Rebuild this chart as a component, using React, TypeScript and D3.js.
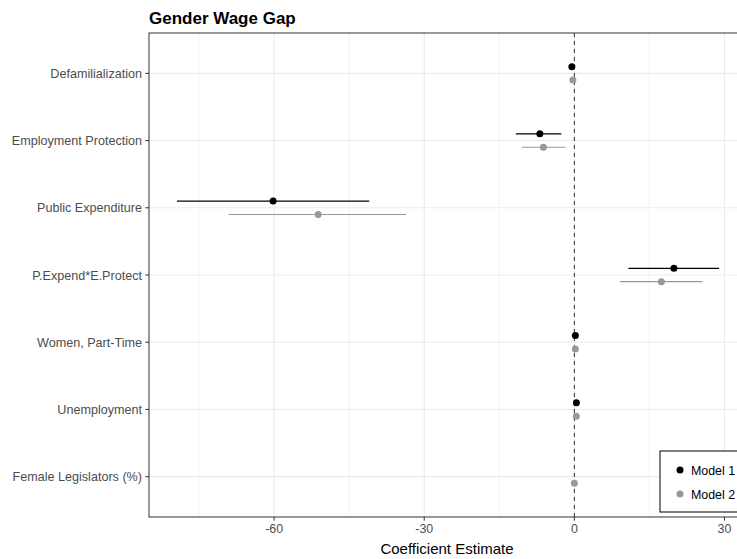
import React from "react";
import * as d3 from "d3";

const categories = [
  "Defamilialization",
  "Employment Protection",
  "Public Expenditure",
  "P.Expend*E.Protect",
  "Women, Part-Time",
  "Unemployment",
  "Female Legislators (%)",
];
const model1Est = [-0.5, -6.9, -60.2, 19.9, 0.2, 0.4, null];
const model1Lo = [-0.7, -11.7, -79.4, 10.8, 0.0, 0.2, null];
const model1Hi = [-0.3, -2.6, -41.0, 28.9, 0.4, 0.6, null];
const model2Est = [-0.3, -6.2, -51.2, 17.4, 0.2, 0.4, 0.0];
const model2Lo = [-0.5, -10.5, -69.1, 9.1, 0.0, 0.2, -0.2];
const model2Hi = [-0.1, -1.8, -33.6, 25.6, 0.4, 0.6, 0.2];
const xTicks = [-60, -30, 0, 30];
const xMinor = [-75, -45, -15, 15];
const seriesNames = ["Model 1", "Model 2"];
const seriesColors = ["#000000", "#999999"];

export default function App() {
  const W = 737, H = 559;
  const left = 149, right = 745, top = 33, bottom = 517;
  const x = d3.scaleLinear().domain([-85, 34.1]).range([left, right]);
  const y = d3.scalePoint<string>().domain(categories).range([top, bottom]).padding(0.6);
  const off = [-6.7, 6.7];
  const series = [
    { est: model1Est, lo: model1Lo, hi: model1Hi },
    { est: model2Est, lo: model2Lo, hi: model2Hi },
  ];
  const font = "'Liberation Sans', Arial, sans-serif";
  return (
    <svg width={W} height={H} style={{ position: "absolute", left: 0, top: 0, overflow: "hidden" }} fontFamily={font}>
      <rect x={0} y={0} width={W} height={H} fill="#fff" />
      <text x={149} y={24} fontSize={17} fontWeight="bold" fill="#000">Gender Wage Gap</text>
      {xMinor.map((t) => (
        <line key={"mn" + t} x1={x(t)} x2={x(t)} y1={top} y2={bottom} stroke="#ebebeb" strokeWidth={0.6} />
      ))}
      {xTicks.map((t) => (
        <line key={"mj" + t} x1={x(t)} x2={x(t)} y1={top} y2={bottom} stroke="#ebebeb" strokeWidth={1.1} />
      ))}
      {categories.map((c) => (
        <line key={"g" + c} x1={left} x2={right} y1={y(c)} y2={y(c)} stroke="#ebebeb" strokeWidth={1.1} />
      ))}
      <line x1={x(0)} x2={x(0)} y1={top} y2={bottom} stroke="#333" strokeWidth={1} strokeDasharray="4,4" />
      {series.map((s, si) =>
        categories.map((c, i) => {
          const e = s.est[i];
          if (e === null) return null;
          const cy = (y(c) as number) + off[si];
          return (
            <g key={si + c}>
              <line x1={x(s.lo[i] as number)} x2={x(s.hi[i] as number)} y1={cy} y2={cy} stroke={seriesColors[si]} strokeWidth={1.2} />
              <circle cx={x(e)} cy={cy} r={3.5} fill={seriesColors[si]} />
            </g>
          );
        })
      )}
      <rect x={left} y={top} width={right - left} height={bottom - top} fill="none" stroke="#333" strokeWidth={1} />
      {categories.map((c) => (
        <g key={"yt" + c}>
          <line x1={left - 3.7} x2={left} y1={y(c)} y2={y(c)} stroke="#333" />
          <text x={left - 7} y={(y(c) as number) + 4.5} textAnchor="end" fontSize={12.6} fill="#4d4d4d">{c}</text>
        </g>
      ))}
      {xTicks.map((t) => (
        <g key={"xt" + t}>
          <line x1={x(t)} x2={x(t)} y1={bottom} y2={bottom + 3.7} stroke="#333" />
          <text x={x(t)} y={bottom + 16} textAnchor="middle" fontSize={12.4} fill="#4d4d4d">{t}</text>
        </g>
      ))}
      <text x={(left + right) / 2} y={554} textAnchor="middle" fontSize={15} fill="#000">Coefficient Estimate</text>
      <g>
        <rect x={660} y={451} width={100} height={61} fill="#fff" stroke="#000" strokeWidth={1} />
        {seriesNames.map((n, i) => (
          <g key={n}>
            <circle cx={680} cy={470 + i * 24} r={3.5} fill={seriesColors[i]} />
            <text x={691} y={474.5 + i * 24} fontSize={12.4} fill="#000">{n}</text>
          </g>
        ))}
      </g>
    </svg>
  );
}
